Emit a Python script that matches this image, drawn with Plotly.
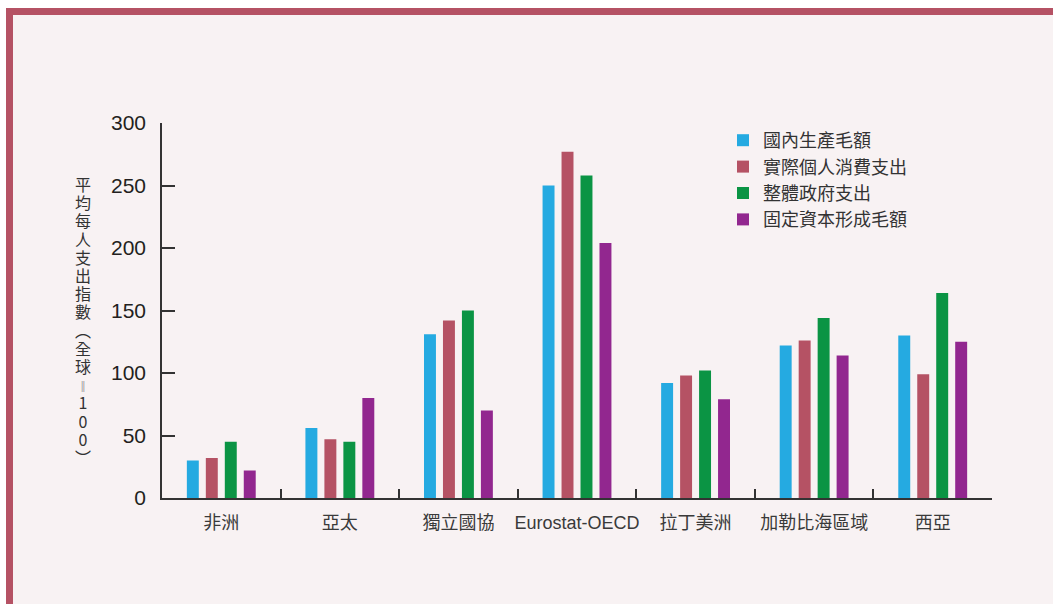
import plotly.graph_objects as go

categories = ["非洲", "亞太", "獨立國協", "Eurostat-OECD", "拉丁美洲", "加勒比海區域", "西亞"]
series_names = ["國內生產毛額", "實際個人消費支出", "整體政府支出", "固定資本形成毛額"]
gdp = [30, 56, 131, 250, 92, 122, 130]
consumption = [32, 47, 142, 277, 98, 126, 99]
government = [45, 45, 150, 258, 102, 144, 164]
capital = [22, 80, 70, 204, 79, 114, 125]
y_ticks = [0, 50, 100, 150, 200, 250, 300]
y_title_chars = ["平", "均", "每", "人", "支", "出", "指", "數", "︵", "全", "球", "‖", "1", "0", "0", "︶"]

colors = ["#25aae1", "#b55264", "#0b9444", "#92278f"]
W, H = 1053, 604
L, R, T, B = 162, 992, 123, 498
BG = "#f8f2f3"
ROSE = "#b55264"
FONT = "Liberation Sans, Arial, Noto Sans CJK TC, sans-serif"
CJK = "Noto Sans CJK TC, sans-serif"


def px(x):
    return (x - L) / (R - L)


def py(y):
    return (B - y) / (B - T)


fig = go.Figure()
for name, vals, c in zip(series_names, [gdp, consumption, government, capital], colors):
    fig.add_trace(go.Bar(x=categories, y=vals, name=name, marker=dict(color=c, line=dict(width=0))))

fig.update_layout(
    width=W, height=H,
    margin=dict(l=L, r=W - R, t=T, b=H - B, pad=0),
    paper_bgcolor=BG, plot_bgcolor=BG,
    barmode="group", bargap=0.36, bargroupgap=0.37,
    font=dict(family=FONT, color="#333333"),
    showlegend=True,
    legend=dict(
        x=px(723), y=py(122), xanchor="left", yanchor="top",
        bgcolor="rgba(0,0,0,0)", font=dict(size=18, family=CJK, color="#333333"),
        itemsizing="constant", tracegroupgap=0,
    ),
)
fig.update_xaxes(
    type="category", showline=True, linecolor="#333333", linewidth=1.5,
    ticks="inside", tickson="boundaries", ticklen=9, tickwidth=1.5, tickcolor="#333333",
    tickfont=dict(size=18, family=FONT, color="#3a3a3a"), tickangle=0,
    showgrid=False, zeroline=False, ticklabelstandoff=8,
)
fig.update_yaxes(
    range=[0, 300], tickvals=y_ticks, showline=True, linecolor="#333333", linewidth=1.5,
    ticks="inside", ticklen=13, tickwidth=1.5, tickcolor="#333333",
    tickfont=dict(size=21, family=FONT, color="#231f20"), showgrid=False, zeroline=False,
    ticklabelstandoff=10,
)

# border shapes
fig.add_shape(type="rect", xref="paper", yref="paper", x0=px(0), x1=px(W), y0=py(0), y1=py(8),
              fillcolor="white", line_width=0, layer="below")
fig.add_shape(type="rect", xref="paper", yref="paper", x0=px(0), x1=px(6), y0=py(0), y1=py(H),
              fillcolor="white", line_width=0, layer="below")
fig.add_shape(type="rect", xref="paper", yref="paper", x0=px(6), x1=px(W), y0=py(8), y1=py(15),
              fillcolor=ROSE, line_width=0, layer="below")
fig.add_shape(type="rect", xref="paper", yref="paper", x0=px(6), x1=px(13), y0=py(8), y1=py(H),
              fillcolor=ROSE, line_width=0, layer="below")

# vertical y-axis title: one upright character per line
lines = []
for ch in y_title_chars:
    size = 11 if ch == "‖" else 16
    lines.append(f"<span style='font-size:{size}px'>{ch}</span>")
fig.add_annotation(
    x=px(83), y=py(320), xref="paper", yref="paper", text="<br>".join(lines), showarrow=False,
    xanchor="center", yanchor="middle", align="center",
    font=dict(size=14, family=CJK, color="#333333"),
)

fig.write_html("out.html", config={"displayModeBar": False},
               post_script="document.body.style.margin='0';")
